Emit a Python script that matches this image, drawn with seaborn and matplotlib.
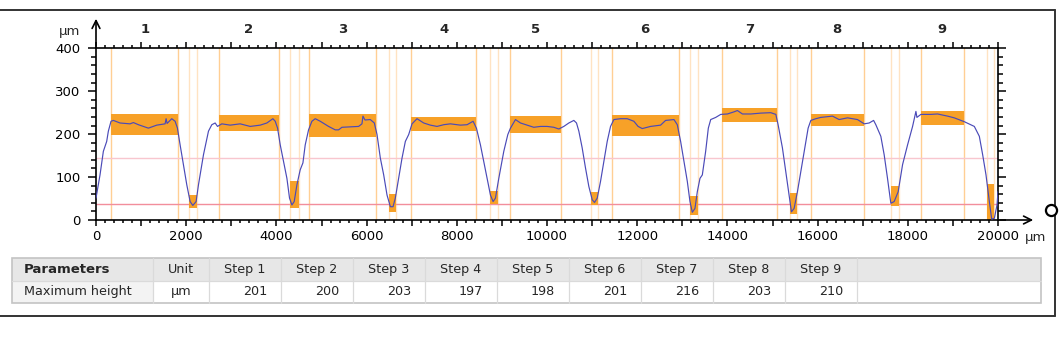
import numpy as np
import matplotlib
matplotlib.use("Agg")
import matplotlib.pyplot as plt
import seaborn as sns
from matplotlib.patches import Rectangle
from matplotlib.ticker import MultipleLocator, FuncFormatter

# profile trace (µm along x, height in µm)
prof_x = [0, 89, 163, 237, 274, 333, 385, 533, 755, 829, 940, 1161, 1347, 1532, 1554, 1576,
          1680, 1754, 1806, 1865, 1939, 2013, 2087, 2146, 2220, 2272, 2383, 2494, 2568, 2642,
          2694, 2790, 2975, 3197, 3419, 3641, 3789, 3922, 3974, 4026, 4085, 4159, 4233, 4291,
          4344, 4395, 4455, 4528, 4588, 4639, 4713, 4787, 4861, 4972, 5157, 5305, 5379, 5453,
          5638, 5823, 5897, 5919, 5964, 6082, 6171, 6231, 6305, 6379, 6453, 6527, 6586, 6637,
          6711, 6785, 6859, 6933, 7007, 7118, 7266, 7414, 7562, 7710, 7858, 8080, 8228, 8361,
          8435, 8524, 8598, 8672, 8746, 8805, 8857, 8931, 9042, 9131, 9190, 9301, 9412, 9560,
          9707, 9855, 10003, 10151, 10262, 10373, 10484, 10595, 10654, 10706, 10780, 10854,
          10928, 11003, 11054, 11114, 11187, 11261, 11335, 11409, 11483, 11631, 11779, 11926,
          12020, 12112, 12297, 12519, 12630, 12815, 12889, 12963, 13037, 13111, 13170, 13222,
          13281, 13333, 13392, 13444, 13518, 13577, 13630, 13741, 13852, 14000, 14148, 14222,
          14333, 14519, 14740, 14962, 15074, 15124, 15220, 15294, 15368, 15420, 15479, 15553,
          15642, 15716, 15790, 15850, 15961, 16071, 16330, 16478, 16663, 16885, 17033, 17144,
          17242, 17291, 17402, 17476, 17550, 17624, 17698, 17787, 17884, 17995, 18106, 18180,
          18202, 18290, 18512, 18660, 18882, 19030, 19253, 19475, 19586, 19660, 19734, 19808,
          19860, 19919, 19978, 20000]
prof_y = [51, 105, 160, 183, 207, 230, 232, 226, 224, 227, 222, 214, 221, 224, 236, 225,
          236, 230, 214, 175, 129, 82, 43, 34, 43, 82, 152, 207, 222, 226,
          218, 224, 221, 224, 218, 221, 226, 236, 230, 214, 175, 136, 97, 51,
          35, 43, 82, 117, 133, 175, 210, 230, 236, 230, 218, 210, 210, 216,
          217, 218, 224, 242, 233, 234, 226, 199, 144, 105, 58, 31, 31, 51,
          97, 144, 183, 199, 224, 236, 226, 221, 218, 222, 224, 221, 222, 230,
          214, 175, 136, 97, 58, 43, 51, 97, 160, 199, 214, 234, 226, 221,
          216, 218, 218, 216, 212, 218, 226, 232, 226, 207, 168, 121,
          78, 47, 41, 51, 90, 136, 183, 218, 234, 236, 236, 230,
          218, 213, 218, 221, 232, 234, 222, 183, 136, 90, 43, 18,
          27, 66, 97, 105, 160, 214, 234, 239, 246, 247, 252, 255,
          247, 247, 249, 250, 246, 222, 168, 113, 58, 19, 27, 66,
          121, 168, 214, 232, 236, 239, 242, 234, 238, 234, 224, 226,
          232, 222, 195, 152, 97, 39, 43, 66, 129, 175, 218, 253,
          239, 246, 246, 247, 242, 238, 229, 218, 195, 152, 105, 43,
          2, 4, 35, 66]

# step plateau windows (upper) and groove windows (lower)
upper_x0 = [333, 2737, 4713, 6985, 9190, 11431, 13874, 15850, 18290]
upper_x1 = [1827, 4048, 6215, 8435, 10300, 12925, 15110, 17018, 19238]
upper_lo = [199, 207, 193, 207, 203, 195, 229, 218, 222]
upper_hi = [246, 244, 247, 240, 243, 244, 260, 247, 253]
lower_x0 = [2065, 4306, 6489, 8746, 10965, 13170, 15390, 17625, 19756]
lower_x1 = [2235, 4491, 6659, 8908, 11128, 13347, 15553, 17809, 19919]
lower_lo = [29, 29, 19, 37, 35, 12, 13, 33, 0]
lower_hi = [58, 91, 61, 68, 65, 57, 62, 80, 84]
ref_lines = [145, 38]
step_names = ["1", "2", "3", "4", "5", "6", "7", "8", "9"]

# table
table_header = ["Parameters", "Unit"] + ["Step %d" % i for i in range(1, 10)]
row_name = "Maximum height"
row_unit = "µm"
max_height = [201, 200, 203, 197, 198, 201, 216, 203, 210]

sns.set_style("white")
plt.rcParams["font.family"] = ["DejaVu Sans"]

W, H = 1060, 356
fig = plt.figure(figsize=(W / 100, H / 100), dpi=100)
fig.patch.set_facecolor("white")

# decoration layer in pixel coords
deco = fig.add_axes([0, 0, 1, 1])
deco.set_xlim(0, W)
deco.set_ylim(H, 0)
deco.axis("off")

ax = fig.add_axes([96 / W, 1 - 220 / H, (998 - 96) / W, (220 - 48.3) / H])
ax.set_facecolor("none")
ax.set_xlim(0, 20000)
ax.set_ylim(0, 400)

orange = "#F7A128"
for x0, x1 in zip(upper_x0, upper_x1):
    ax.axvline(x0, color="#FFCF94", lw=1, zorder=1)
    ax.axvline(x1, color="#FFCF94", lw=1, zorder=1)
for x0, x1 in zip(lower_x0, lower_x1):
    ax.axvline(x0, color="#FFE3C2", lw=1, zorder=1)
    ax.axvline(x1, color="#FFE3C2", lw=1, zorder=1)
ax.axhline(ref_lines[0], color="#F8C6CE", lw=1, zorder=1)
ax.axhline(ref_lines[1], color="#F28E9C", lw=1, zorder=1)

for x0, x1, lo, hi in zip(upper_x0, upper_x1, upper_lo, upper_hi):
    ax.add_patch(Rectangle((x0, lo), x1 - x0, hi - lo, color=orange, lw=0, zorder=2))
for x0, x1, lo, hi in zip(lower_x0, lower_x1, lower_lo, lower_hi):
    ax.add_patch(Rectangle((x0, lo), x1 - x0, hi - lo, color=orange, lw=0, zorder=2))

sns.lineplot(x=prof_x, y=prof_y, ax=ax, color="#4A4AB8", linewidth=0.85,
             sort=False, estimator=None, zorder=3)

for x0, x1, name in zip(upper_x0, upper_x1, step_names):
    ax.text((x0 + x1) / 2, 1.107, name, transform=ax.get_xaxis_transform(),
            ha="center", va="center", fontsize=9.5, fontweight="bold")

for s in ax.spines.values():
    s.set_visible(True)
    s.set_color("black")
    s.set_linewidth(1.2)

ax.xaxis.set_major_locator(MultipleLocator(1000))
ax.xaxis.set_minor_locator(MultipleLocator(200))
ax.xaxis.set_major_formatter(FuncFormatter(lambda v, p: "%d" % v if int(v) % 2000 == 0 else ""))
ax.yaxis.set_major_locator(MultipleLocator(100))
ax.yaxis.set_minor_locator(MultipleLocator(20))
ax.tick_params(axis="x", which="both", direction="out", top=True, bottom=True,
               labeltop=False, width=1.1, colors="black", labelsize=9.5)
ax.tick_params(axis="x", which="major", length=4, pad=3)
ax.tick_params(axis="x", which="minor", length=2.5)
ax.tick_params(axis="y", which="both", direction="out", left=True, right=True,
               labelright=False, width=1.1, colors="black", labelsize=9.5)
ax.tick_params(axis="y", which="major", length=6, pad=5)
ax.tick_params(axis="y", which="minor", length=3.8)
ax.set_xlabel("")
ax.set_ylabel("")
ax.grid(False)
ax.annotate("µm", xy=(20000, 0), xycoords="data", xytext=(19, -12.5),
            textcoords="offset points", ha="left", va="center", fontsize=9.5,
            annotation_clip=False)

# axis arrows, unit, frame
deco.annotate("", xy=(96, 16), xytext=(96, 49),
              arrowprops=dict(arrowstyle="->", lw=1.2, color="black", mutation_scale=14))
deco.annotate("", xy=(1036, 220), xytext=(997, 220),
              arrowprops=dict(arrowstyle="->", lw=1.2, color="black", mutation_scale=14))
deco.text(80, 32, "µm", ha="right", va="center", fontsize=9.5)
deco.plot([0, 1055], [10, 10], color="#333333", lw=1.4)
deco.plot([1055, 1055], [10, 316], color="#333333", lw=1.4)
deco.plot([0, 1055], [316, 316], color="#333333", lw=1.4)
deco.plot([1051], [210], "o", ms=8, mfc="white", mec="black", mew=1.6, zorder=5)

# table
col_edges = [11.8, 153.1, 208.6] + [208.6 + 72 * (i + 1) for i in range(9)] + [1041.2]
top, mid, bot = 257.9, 280.6, 303.2
deco.add_patch(Rectangle((col_edges[0], top), col_edges[-1] - col_edges[0], mid - top,
                         facecolor="#E7E7E7", edgecolor="none"))
deco.add_patch(Rectangle((col_edges[0], mid), col_edges[1] - col_edges[0], bot - mid,
                         facecolor="#F3F3F3", edgecolor="none"))
for xe in col_edges[1:-1]:
    deco.plot([xe, xe], [top, bot], color="#DADADA", lw=0.9)
deco.plot([col_edges[0], col_edges[-1]], [mid, mid], color="#DADADA", lw=0.9)
deco.add_patch(Rectangle((col_edges[0], top), col_edges[-1] - col_edges[0], bot - top,
                         facecolor="none", edgecolor="#C4C4C4", lw=1.2))
hy = (top + mid) / 2
ry = (mid + bot) / 2
deco.text(col_edges[0] + 12, hy, table_header[0], ha="left", va="center",
          fontsize=9.5, fontweight="bold")
for i, txt in enumerate(table_header[1:]):
    cx = (col_edges[i + 1] + col_edges[i + 2]) / 2
    deco.text(cx, hy, txt, ha="center", va="center", fontsize=9.2)
deco.text(col_edges[0] + 12, ry, row_name, ha="left", va="center", fontsize=9.2)
deco.text((col_edges[1] + col_edges[2]) / 2, ry, row_unit, ha="center", va="center", fontsize=9.2)
for i, v in enumerate(max_height):
    deco.text(col_edges[i + 3] - 13.5, ry, str(v), ha="right", va="center", fontsize=9.2)

fig.savefig("out.png", dpi=100)
